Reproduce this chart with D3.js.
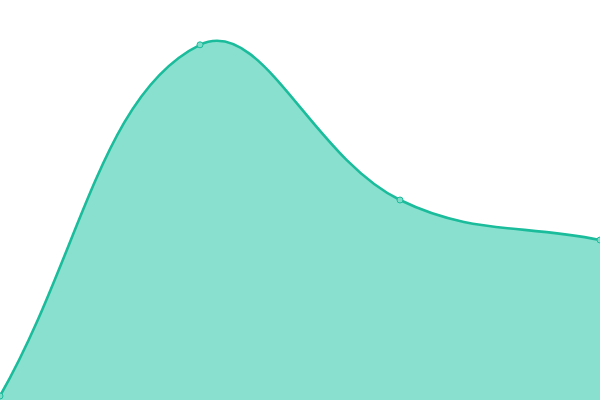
<!DOCTYPE html>
<html>
<head>
<meta charset="utf-8">
<script src="https://cdn.jsdelivr.net/npm/d3@7"></script>
<style>
  html, body { margin: 0; padding: 0; background: #fff; }
  svg { display: block; }
</style>
</head>
<body>
<svg id="chart" width="600" height="400"></svg>
<script>
const categories = ["A", "B", "C", "D"];
const values = [1, 88.8, 50, 40];

const width = 600, height = 400;

// spline with tension, control points weighted by segment length
// (same idea as the canvas chart libs use), plugged in as a d3 curve
function weightedSpline(tension) {
  return function(context) {
    return {
      areaStart() { this._line = 0; },
      areaEnd() { this._line = NaN; },
      lineStart() { this._pts = []; },
      point(x, y) { this._pts.push([+x, +y]); },
      lineEnd() {
        const p = this._pts, n = p.length;
        if (n) {
          this._line ? context.lineTo(p[0][0], p[0][1]) : context.moveTo(p[0][0], p[0][1]);
          if (n === 2) context.lineTo(p[1][0], p[1][1]);
          else if (n > 2) {
            const cps = p.map((cur, i) => {
              const prev = p[Math.max(i - 1, 0)], next = p[Math.min(i + 1, n - 1)];
              const d01 = Math.hypot(cur[0] - prev[0], cur[1] - prev[1]);
              const d12 = Math.hypot(next[0] - cur[0], next[1] - cur[1]);
              let s01 = d01 / (d01 + d12), s12 = d12 / (d01 + d12);
              if (isNaN(s01)) s01 = 0;
              if (isNaN(s12)) s12 = 0;
              const fa = tension * s01, fb = tension * s12;
              const clampY = v => Math.max(0, Math.min(height, v));
              return {
                px: cur[0] - fa * (next[0] - prev[0]),
                py: clampY(cur[1] - fa * (next[1] - prev[1])),
                nx: cur[0] + fb * (next[0] - prev[0]),
                ny: clampY(cur[1] + fb * (next[1] - prev[1]))
              };
            });
            for (let i = 1; i < n; i++) {
              context.bezierCurveTo(cps[i - 1].nx, cps[i - 1].ny, cps[i].px, cps[i].py, p[i][0], p[i][1]);
            }
          }
        }
        if (this._line || (this._line !== 0 && n === 1)) context.closePath();
        this._line = 1 - this._line;
      }
    };
  };
}

const svg = d3.select("#chart");

const x = d3.scalePoint().domain(categories).range([0, width]);
const y = d3.scaleLinear().domain([0, 100]).range([height, 0]);

const data = categories.map((c, i) => ({ cat: c, val: values[i] }));
const curve = weightedSpline(0.4);

const area = d3.area()
  .x(d => x(d.cat))
  .y0(height)
  .y1(d => y(d.val))
  .curve(curve);

const line = d3.line()
  .x(d => x(d.cat))
  .y(d => y(d.val))
  .curve(curve);

svg.append("path")
  .datum(data)
  .attr("d", area)
  .attr("fill", "#89e0cf");

svg.append("path")
  .datum(data)
  .attr("d", line)
  .attr("fill", "none")
  .attr("stroke", "#1abc9c")
  .attr("stroke-width", 2.6);

svg.selectAll(".dot")
  .data(data)
  .enter()
  .append("circle")
  .attr("class", "dot")
  .attr("cx", d => x(d.cat))
  .attr("cy", d => y(d.val))
  .attr("r", 3)
  .attr("fill", "#7fdcc9")
  .attr("stroke", "#1abc9c")
  .attr("stroke-width", 1);
</script>
</body>
</html>
